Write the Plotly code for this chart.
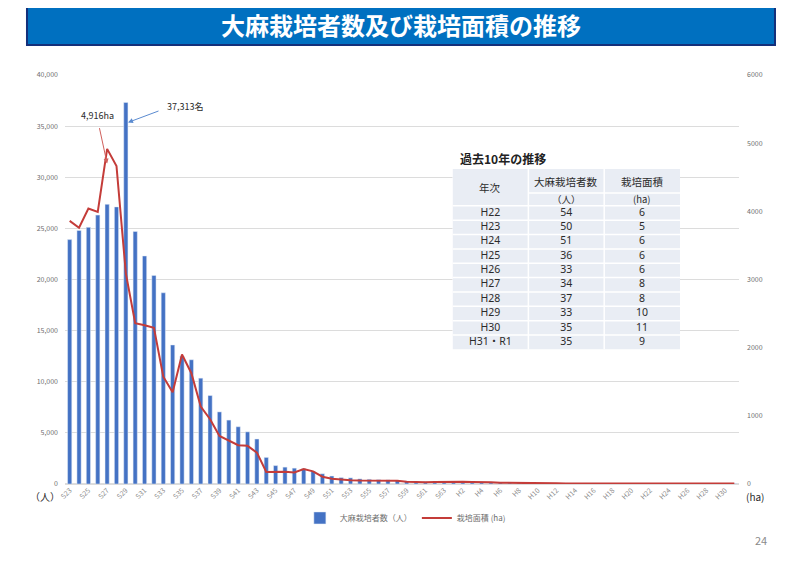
import plotly.graph_objects as go

## Years on the x axis (Showa 23 .. Heisei 31)
years = ['S' + str(i) for i in range(23, 64)] + ['H' + str(i) for i in range(1, 32)]
tick_years = years[::2]

## Number of cannabis growers (people)
growers = [23900, 24800, 25100, 26300, 27350, 27100, 37313, 24700, 22300, 20400,
		   18700, 13600, 12500, 12150, 10350, 8650, 7050, 6250, 5600, 5100,
		   4400, 2600, 1800, 1650, 1550, 1500, 1250, 1000, 780, 630,
		   600, 500, 460, 420, 400, 340, 280, 240, 210, 200,
		   190, 180, 170, 160, 150, 140, 130, 120, 110, 100,
		   95, 90, 85, 80, 76, 72, 68, 65, 62, 60,
		   58, 56, 54, 50, 51, 36, 33, 34, 37, 33,
		   35, 35]

## Cultivation area (ha)
area = [3860, 3760, 4040, 3990, 4916, 4665, 3090, 2360, 2330, 2290,
		1575, 1345, 1900, 1625, 1135, 950, 705, 635, 570, 560,
		460, 176, 176, 180, 168, 220, 186, 107, 78, 63,
		56, 50, 50, 52, 52, 48, 34, 25, 25, 30,
		34, 34, 34, 30, 30, 25, 18, 15, 12, 11,
		10, 10, 10, 9, 9, 8, 8, 8, 7, 7,
		7, 7, 6, 5, 6, 6, 6, 8, 8, 10,
		11, 9]

## Last 10 years table
tbl_year = ['H22', 'H23', 'H24', 'H25', 'H26', 'H27', 'H28', 'H29', 'H30', 'H31・R1']
tbl_growers = [54, 50, 51, 36, 33, 34, 37, 33, 35, 35]
tbl_area = [6, 5, 6, 6, 6, 8, 8, 10, 11, 9]
tbl_head1 = ['大麻栽培者数', '栽培面積']
tbl_head2 = ['（人）', '(ha)']

jp = 'Noto Sans CJK JP'
num_font = 'Noto Sans, Noto Sans CJK JP'
gray = '#6e6e6e'
txt = '#2b2b2b'
cell_bg = '#E9EDF4'

## table geometry in its own axis units (px)
hdr1 = 24.0
hdr2 = 12.7
row_h = 14.36
tbl_h = hdr1 + hdr2 + row_h * len(tbl_year)
row_mid = [hdr1 + hdr2 + row_h * (i + 0.5) for i in range(len(tbl_year))]

fig = go.Figure()
fig.add_trace(go.Bar(x=years, y=growers, name='大麻栽培者数（人）',
					 marker_color='#4472C4', yaxis='y'))
fig.add_trace(go.Scatter(x=years, y=area, name='栽培面積 (ha)', mode='lines',
						 line=dict(color='#C43C39', width=2), yaxis='y2'))

## table text, drawn on its own axes
for col, vals in enumerate([tbl_year, tbl_growers, tbl_area]):
	fig.add_trace(go.Scatter(x=[col + 0.5] * len(vals), y=row_mid, text=[str(v) for v in vals],
							 mode='text', textfont=dict(family=num_font, size=10.5, color=txt),
							 xaxis='x3', yaxis='y3', showlegend=False, hoverinfo='skip'))

# the page body has an 8px margin, so the figure is shifted by that much
fig.update_layout(
	width=792, height=558,
	margin=dict(l=57, r=61, t=67, b=82),
	paper_bgcolor='white', plot_bgcolor='white',
	font=dict(family=jp, color=gray),
	bargap=0.55,
	showlegend=True,
	legend=dict(orientation='h', x=0.505, xanchor='center', y=-0.083, yanchor='middle',
				font=dict(size=8, color=gray), itemwidth=30),
	xaxis=dict(type='category', tickvals=tick_years, tickangle=-45,
			   tickfont=dict(size=7, color='#8a8a8a'), showgrid=False,
			   showline=False, ticks=''),
	yaxis=dict(range=[0, 40000], dtick=5000, tickformat=',', showgrid=True,
			   gridcolor='#DCDCDC', zeroline=True, zerolinecolor='#DCDCDC',
			   tickfont=dict(size=7, color=gray), ticks='', ticklabelstandoff=6),
	yaxis2=dict(range=[0, 6000], dtick=1000, overlaying='y', side='right',
				showgrid=False, zeroline=False, tickformat='d',
				tickfont=dict(size=7, color=gray), ticks='', ticklabelstandoff=7),
	xaxis3=dict(domain=[0.575, 0.9125], range=[0, 3], anchor='y3', visible=False),
	yaxis3=dict(domain=[0.329, 0.770], range=[tbl_h, 0], anchor='x3', visible=False),
)

## table cells
fig.add_shape(type='rect', xref='x3', yref='y3', x0=0, x1=3, y0=0, y1=tbl_h,
			  fillcolor=cell_bg, line_width=0, layer='below')
for c in [1, 2]:
	fig.add_shape(type='line', xref='x3', yref='y3', x0=c, x1=c, y0=0, y1=tbl_h,
				  line=dict(color='white', width=1.5), layer='below')
fig.add_shape(type='line', xref='x3', yref='y3', x0=1, x1=3, y0=hdr1, y1=hdr1,
			  line=dict(color='white', width=1.5), layer='below')
for i in range(len(tbl_year)):
	y = hdr1 + hdr2 + row_h * i
	fig.add_shape(type='line', xref='x3', yref='y3', x0=0, x1=3, y0=y, y1=y,
				  line=dict(color='white', width=1.5), layer='below')
fig.add_annotation(text='年次', xref='x3', yref='y3', x=0.5, y=(hdr1 + hdr2) / 2,
				   showarrow=False, xanchor='center', yanchor='middle',
				   font=dict(family=jp, size=10.5, color=txt))
for c in range(2):
	fig.add_annotation(text=tbl_head1[c], xref='x3', yref='y3', x=c + 1.5, y=hdr1 / 2,
					   showarrow=False, xanchor='center', yanchor='middle',
					   font=dict(family=jp, size=10.5, color=txt))
	fig.add_annotation(text=tbl_head2[c], xref='x3', yref='y3', x=c + 1.5, y=hdr1 + hdr2 / 2 - 0.8,
					   showarrow=False, xanchor='center', yanchor='middle', borderpad=0,
					   font=dict(family=jp, size=9.5, color=txt))

## Title banner
fig.add_shape(type='rect', xref='paper', yref='paper', x0=-0.0564, x1=1.0534, y0=1.0734, y1=1.1736,
			  fillcolor='#0070C0', line=dict(color='#14307A', width=2), layer='above')
fig.add_annotation(text='<b>大麻栽培者数及び栽培面積の推移</b>', xref='paper', yref='paper',
				   x=0.4985, y=1.1235, showarrow=False, xanchor='center', yanchor='middle',
				   font=dict(family=jp, size=24, color='white'))

## Table caption
fig.add_annotation(text='<b>過去10年の推移</b>', xref='paper', yref='paper', x=0.583, y=0.797,
				   xanchor='left', yanchor='middle', showarrow=False,
				   font=dict(family=jp, size=12, color='#222222'))

## Peak labels and arrows
fig.add_annotation(text='4,916ha', xref='paper', yref='paper', x=0.048, y=0.8998,
				   showarrow=False, xanchor='center', yanchor='middle',
				   font=dict(size=9, color=txt))
fig.add_annotation(text='', x='S27', y=4700, yref='y2', ax=-8, ay=-37,
				   showarrow=True, arrowhead=2, arrowsize=1, arrowwidth=1, arrowcolor='#D0605C')
fig.add_annotation(text='37,313名', xref='paper', yref='paper', x=0.1773, y=0.924,
				   showarrow=False, xanchor='center', yanchor='middle',
				   font=dict(size=9, color=txt))
fig.add_annotation(text='', x=6.23, y=35360, yref='y', ax=32, ay=-12,
				   showarrow=True, arrowhead=2, arrowsize=1, arrowwidth=1, arrowcolor='#5B8BD0')

## Axis unit labels and page number
fig.add_annotation(text='（人）', xref='paper', yref='paper', x=-0.0297, y=-0.031,
				   showarrow=False, xanchor='center', yanchor='middle',
				   font=dict(size=10, color=txt))
fig.add_annotation(text='(ha)', xref='paper', yref='paper', x=1.0237, y=-0.031,
				   showarrow=False, xanchor='center', yanchor='middle',
				   font=dict(size=10, color=txt))
fig.add_annotation(text='24', xref='paper', yref='paper', x=1.0326, y=-0.137,
				   showarrow=False, xanchor='center', yanchor='middle',
				   font=dict(size=11, color='#8a8a8a'))

fig.write_html("out.html")
